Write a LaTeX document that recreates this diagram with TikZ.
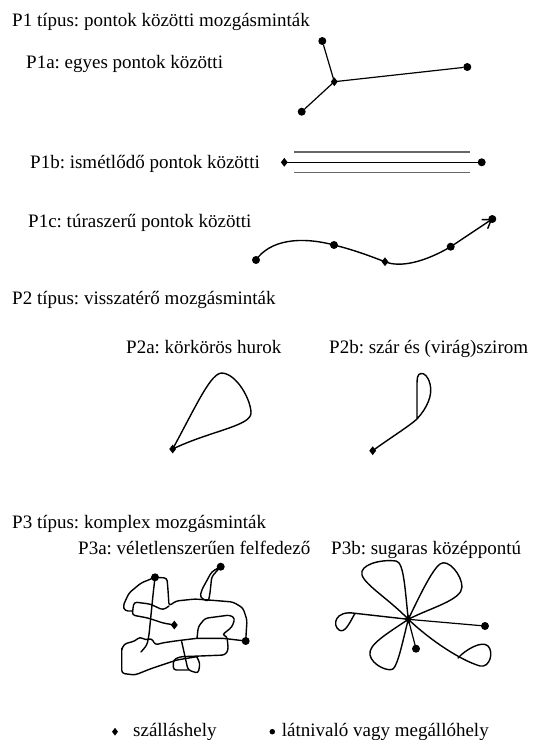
\documentclass[tikz,border=0pt]{standalone}
\usepackage{fontspec}
\setmainfont{Liberation Serif}
\usetikzlibrary{shapes.geometric,arrows.meta}
\frenchspacing
\begin{document}
\begin{tikzpicture}[x=1pt,y=-1pt,
  lbl/.style={anchor=base west,inner sep=0pt,font=\fontsize{19}{24}\selectfont\frenchspacing},
  dot/.style={circle,fill=black,inner sep=0pt,minimum size=8pt},
  acc/.style={diamond,fill=black,inner sep=0pt,minimum width=7pt,minimum height=9pt},
  sdot/.style={circle,fill=black,inner sep=0pt,minimum size=5.5pt},
  sacc/.style={diamond,fill=black,inner sep=0pt,minimum width=6pt,minimum height=8pt},
  trk/.style={line width=1.4pt,line cap=round,line join=round},
  thn/.style={line width=1.2pt,line cap=round},
  gry/.style={line width=1.5pt,draw=black!60},
  scr/.style={line width=1.4pt,line cap=round,line join=round,rounded corners=3pt}
]
\useasboundingbox (0,0) rectangle (537,740);

% ---------- labels ----------
\node[lbl] (t1)  at (12,26)   {P1 típus: pontok közötti mozgásminták};
\node[lbl] (t1a) at (26,68)   {P1a: egyes pontok közötti};
\node[lbl] (t1b) at (30,168)  {P1b: ismétlődő pontok közötti};
\node[lbl] (t1c) at (28,227)  {P1c: túraszerű pontok közötti};
\node[lbl] (t2)  at (12,304)  {P2 típus: visszatérő mozgásminták};
\node[lbl] (t2a) at (126,353) {P2a: körkörös hurok};
\node[lbl] (t2b) at (329,353) {P2b: szár és (virág)szirom};
\node[lbl] (t3)  at (12,528)  {P3 típus: komplex mozgásminták};
\node[lbl] (t3a) at (78,554)  {P3a: véletlenszerűen felfedező};
\node[lbl] (t3b) at (331,554) {P3b: sugaras középpontú};

% ---------- P1a ----------
\node[acc] (a0) at (334.3,81.7) {};
\node[dot] (a1) at (322.3,41) {};
\node[dot] (a2) at (467.3,67) {};
\node[dot] (a3) at (301.7,111.7) {};
\draw[thn] (a0.center) -- (a1) (a0.center) -- (a2) (a0.center) -- (a3);

% ---------- P1b ----------
\node[acc] (b0) at (284.3,162.3) {};
\node[dot] (b1) at (481.7,162.3) {};
\coordinate (b2) at (294,152);
\coordinate (b3) at (470,152);
\coordinate (b4) at (294,172.3);
\coordinate (b5) at (470,172.3);
\draw[thn] (b0.center) -- (b1.center);
\draw[gry] (b2) -- (b3) (b4) -- (b5);

% ---------- P1c ----------
\node[dot] (c1) at (256,260) {};
\node[dot] (c2) at (334,245) {};
\node[acc] (c3) at (385,261.7) {};
\node[dot] (c4) at (450.7,246.7) {};
\node[dot] (c5) at (492.3,219) {};
\draw[trk] (c1.center) .. controls (270,240) and (300,236) .. (c2.center)
  .. controls (358,251) and (372,257) .. (c3.center)
  .. controls (400,268) and (425,262) .. (c4.center);
\draw[trk,-{Straight Barb[length=8pt,width=11pt]}] (c4.center) -- (c5.center);

% ---------- P2a ----------
\node[acc] (p0) at (172.7,449) {};
\draw[trk] (p0.center) .. controls (198,402) and (211,373) .. (222,373)
  .. controls (237,374) and (251,400) .. (251,413)
  .. controls (251,426) and (210,431) .. (p0.center);

% ---------- P2b ----------
\node[acc] (q0) at (372.7,450.7) {};
\coordinate (q1) at (417,419);
\draw[trk] (q0.center) .. controls (390,438) and (408,427) .. (q1)
  .. controls (427,408) and (433,395) .. (430,384)
  .. controls (428,376) and (424,373) .. (421,373.5)
  .. controls (417,374) and (417,379) .. (417,386) -- (q1);

% ---------- P3a ----------
\node[dot] (s1) at (155,577.3) {};
\node[dot] (s2) at (220.7,566.7) {};
\node[acc] (s3) at (174.3,625) {};
\node[dot] (s4) at (245.7,641) {};
\draw[scr] (s1.center) -- (167,578) -- (168,590) -- (169,606) -- (176,601) -- (195,599)
  -- (215,600.5) -- (233,602) -- (243,608) -- (247,620) -- (s4.center);
\draw[scr] (169,606) -- (163,610) -- (150,604) -- (134,602) -- (132,615) -- (148,618)
  -- (163,623) -- (s3.center);
\draw[scr] (s1.center) -- (141,583) -- (129,593) -- (123,606) -- (125,611) -- (133,611);
\draw[scr] (s1.center) -- (153,595) -- (151,615) -- (149,635) -- (147,645) -- (141,652);
\draw[scr] (s2.center) -- (211.7,571.7) -- (201.7,590) -- (200,597.3) -- (208.3,601.7)
  -- (210,593.3) -- (211.7,576.7) -- (s2.center);
\draw[scr] (121.7,650) -- (124,644) -- (135,641) -- (140,636.7) -- (145,640) -- (152,638.3)
  -- (155,645) -- (162,643) -- (175,641) -- (197,638.3) -- (223,638.3) -- (s4.center);
\draw[scr] (197,638.3) -- (198.3,626.7) -- (205,618.3) -- (230,615) -- (235,618.3)
  -- (232,627) -- (222,635) -- (227,636) -- (228.3,650) -- (225,655) -- (200,656)
  -- (180,656.7) -- (173.3,660) -- (173.3,670) -- (188.3,670);
\draw[scr] (181.7,641.7) -- (184,652) -- (188,670) -- (198.3,673.3) -- (200,663.3) -- (196.7,656.7);
\draw[scr] (121.7,648.3) -- (121.7,673.3) -- (135,675) -- (150,669) -- (176.7,660) -- (196.7,656.7);

% ---------- P3b ----------
\node[acc] (f0) at (408.3,619.3) {};
\node[dot] (f1) at (485,626) {};
\node[dot] (f2) at (416,648.7) {};
\draw[thn] (f0.center) -- (f1.center) (f0.center) -- (f2.center);
\draw[trk] (f0.center) .. controls (390,600) and (365,585) .. (362,575)
  .. controls (359,565) and (380,559) .. (396,561)
  .. controls (404,562) and (405,590) .. (f0.center);
\draw[trk] (f0.center) .. controls (420,595) and (432,570) .. (440,564)
  .. controls (448,558) and (462,575) .. (462,587)
  .. controls (462,600) and (430,608) .. (f0.center);
\draw[trk] (f0.center) -- (355,613.3) .. controls (335,610) and (332,625) .. (339,630)
  .. controls (345,634) and (350,622) .. (355,613.3);
\draw[trk] (f0.center) .. controls (385,635) and (368,645) .. (370,655)
  .. controls (372,665) and (388,672) .. (393,669)
  .. controls (398,665) and (403,640) .. (f0.center);
\draw[trk] (f0.center) .. controls (430,640) and (460,660) .. (480,666)
  .. controls (490,668) and (494,652) .. (488,646)
  .. controls (482,640) and (465,650) .. (458,658);

% ---------- legend ----------
\node[sacc] (l1) at (115,731.7) {};
\node[lbl] (l1t) at (133,736) {szálláshely};
\node[sdot] (l2) at (272.3,731.7) {};
\node[lbl] (l2t) at (281.7,736) {látnivaló vagy megállóhely};
\end{tikzpicture}
\end{document}
